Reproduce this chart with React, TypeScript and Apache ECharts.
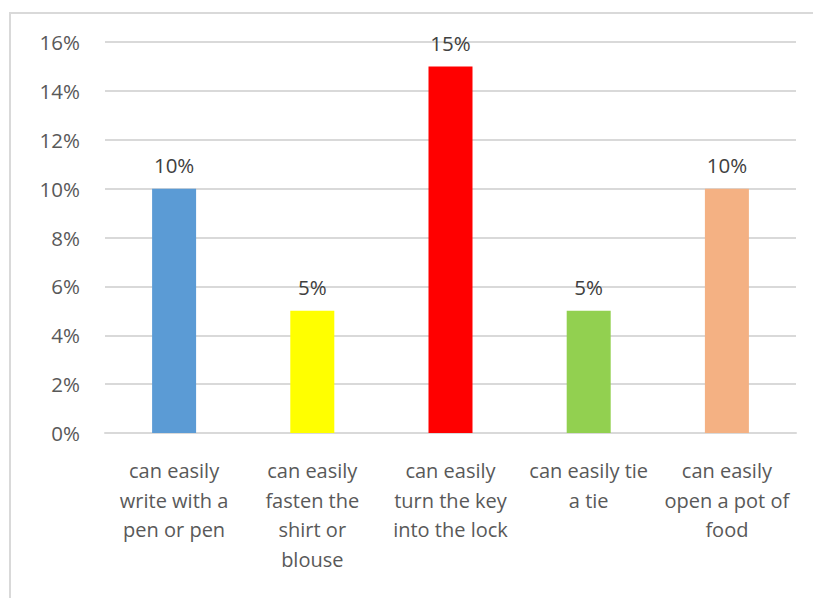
import React, { useEffect, useRef } from "react";
import * as echarts from "echarts";

const categories = [
  "can easily\nwrite with a\npen or pen",
  "can easily\nfasten the\nshirt or\nblouse",
  "can easily\nturn the key\ninto the lock",
  "can easily tie\na tie",
  "can easily\nopen a pot of\nfood",
];
const values = [10, 5, 15, 5, 10];
const barColors = ["#5B9BD5", "#FFFF00", "#FF0000", "#92D050", "#F4B183"];
const yTicks = [0, 2, 4, 6, 8, 10, 12, 14, 16];

export default function App() {
  const ref = useRef<HTMLDivElement>(null);
  useEffect(() => {
    if (!ref.current) return;
    const chart = echarts.init(ref.current, null, { renderer: "svg" });
    const font = "'Open Sans', Lato, sans-serif";
    chart.setOption({
      animation: false,
      backgroundColor: "#ffffff",
      grid: { left: 105, right: 17, top: 42, bottom: 165, containLabel: false },
      graphic: [
        {
          type: "rect",
          shape: { x: 10, y: 13, width: 900, height: 700 },
          style: { fill: "none", stroke: "#d9d9d9", lineWidth: 2 },
          silent: true,
        },
      ],
      xAxis: {
        type: "category",
        data: categories,
        axisLine: { lineStyle: { color: "#d9d9d9", width: 2 } },
        axisTick: { show: false },
        axisLabel: {
          color: "#595959",
          fontSize: 20,
          fontFamily: font,
          lineHeight: 29.5,
          margin: 23,
          interval: 0,
          verticalAlign: "top",
        },
      },
      yAxis: {
        type: "value",
        min: yTicks[0],
        max: yTicks[yTicks.length - 1],
        interval: 2,
        axisLine: { show: false },
        axisTick: { show: false },
        splitLine: { lineStyle: { color: "#d9d9d9", width: 2 } },
        axisLabel: {
          color: "#595959",
          fontSize: 20.5,
          fontFamily: font,
          margin: 25,
          formatter: (v: number) => v + "%",
        },
      },
      series: [
        {
          type: "bar",
          barWidth: 44,
          data: values.map((v, i) => ({ value: v, itemStyle: { color: barColors[i] } })),
          label: {
            show: true,
            position: "top",
            distance: 13,
            color: "#404040",
            fontSize: 20.5,
            fontFamily: font,
            formatter: (p: any) => p.value + "%",
          },
        },
      ],
    });
    return () => chart.dispose();
  }, []);
  return (
    <div
      ref={ref}
      style={{ position: "absolute", left: 0, top: 0, width: 813, height: 598 }}
    />
  );
}
